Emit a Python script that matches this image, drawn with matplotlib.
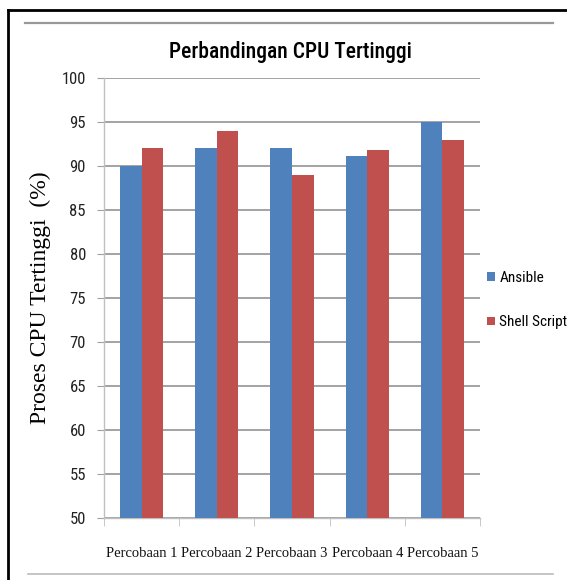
import matplotlib
matplotlib.use('Agg')
import matplotlib.pyplot as plt
from matplotlib import font_manager
from matplotlib.lines import Line2D
import numpy as np

categories = ['Percobaan 1', 'Percobaan 2', 'Percobaan 3', 'Percobaan 4', 'Percobaan 5']
ansible = [90.0, 92.0, 92.0, 91.1, 95.0]
shell_script = [92.1, 94.0, 89.0, 91.8, 92.9]
yticks = [50, 55, 60, 65, 70, 75, 80, 85, 90, 95, 100]

# pick the narrowest sans family that is available (reference uses Calibri)
installed = {f.name for f in font_manager.fontManager.ttflist}
candidates = ['Roboto Condensed', 'Open Sans Condensed', 'Liberation Sans Narrow',
              'DejaVu Sans Condensed', 'Roboto', 'Liberation Sans']
narrow = next(c for c in candidates if c in installed)
serif = 'Liberation Serif'

blue = '#4F81BD'
red = '#C0504D'

fig = plt.figure(figsize=(5.67, 5.80), dpi=100)
ax = fig.add_axes([104 / 567, 1 - 518 / 580, 376 / 567, 440 / 580])

x = np.arange(len(categories))
w = 0.286
ax.bar(x - w / 2, ansible, w, color=blue, label='Ansible', zorder=3)
ax.bar(x + w / 2, shell_script, w, color=red, label='Shell Script', zorder=3)

ax.set_xlim(-0.5, len(categories) - 0.5)
ax.set_ylim(50, 100)
ax.set_yticks(yticks)
ax.set_yticklabels([str(v) for v in yticks], fontsize=12, color='#222222', family=narrow)
ax.set_xticks(x)
ax.set_xticklabels(categories, fontsize=10.5, family=serif, color='#111111')
ax.tick_params(axis='x', length=0, pad=21)
ax.tick_params(axis='y', length=5, color='#a0a0a0', pad=8)
# category boundary ticks on the x axis
ax.set_xticks(np.arange(-0.5, len(categories)), minor=True)
ax.tick_params(axis='x', which='minor', length=6, color='#c0c0c0')

ax.grid(axis='y', color='#8a8a8a', linewidth=1.1, zorder=0)
for s in ['top', 'right']:
    ax.spines[s].set_visible(False)
for s in ['left', 'bottom']:
    ax.spines[s].set_color('#c0c0c0')
    ax.spines[s].set_linewidth(1.0)

ax.set_ylabel('Proses CPU Tertinggi  (%)', fontsize=17, family=serif)
ax.yaxis.set_label_coords(-0.14, 0.5)

fig.text(290 / 567, 1 - 52 / 580, 'Perbandingan CPU Tertinggi', ha='center', va='center',
         fontsize=15.5, family=narrow, fontweight='medium')

fig.legend(loc='center left', bbox_to_anchor=(487 / 567, 1 - 300 / 580), frameon=False,
           prop={'family': narrow, 'size': 11}, handlelength=0.5, handleheight=0.5,
           handletextpad=0.3, labelspacing=2.0, borderpad=0, borderaxespad=0)

# page frame lines
fig.add_artist(Line2D([7.5 / 567, 1], [1 - 9.5 / 580] * 2, color='black', linewidth=2))
fig.add_artist(Line2D([7.5 / 567] * 2, [0, 1 - 9.5 / 580], color='black', linewidth=2))
fig.add_artist(Line2D([25 / 567, 553 / 567], [1 - 23 / 580] * 2, color='#999999', linewidth=1.6))
fig.add_artist(Line2D([28 / 567, 553 / 567], [1 - 574 / 580] * 2, color='#bbbbbb', linewidth=1.2))

fig.savefig('out.png', dpi=100)
